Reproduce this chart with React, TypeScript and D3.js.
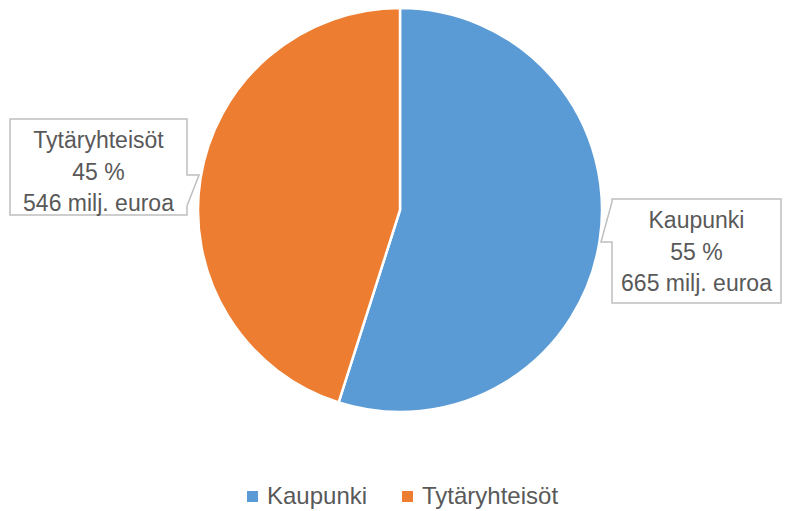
import React from "react";
import * as d3 from "d3";

const categories = ["Kaupunki", "Tytäryhteisöt"];
const values = [665, 546];
const percents = ["55 %", "45 %"];
const amounts = ["665 milj. euroa", "546 milj. euroa"];
const colors = ["#5B9BD5", "#ED7D31"];

const W = 785, H = 511;
const cx = 400, cy = 210, R = 202;
const FONT = "'Liberation Sans', Arial, sans-serif";
const TXT = "#595959";

export default function App() {
  const pie = d3.pie<number>().sort(null).value((d) => d)(values);
  const arc = d3.arc<d3.PieArcDatum<number>>().innerRadius(0).outerRadius(R);

  const boxes = [
    { x0: 612, y0: 199, x1: 781, y1: 303, ptr: [[612, 202], [601, 242], [612, 242]], lines: [228, 260, 291] },
    { x0: 10, y0: 119, x1: 187, y1: 215, ptr: [[187, 175], [199, 175], [187, 206]], lines: [148, 180, 211] },
  ];

  const calloutPath = (b: any, i: number) => {
    const p = b.ptr;
    if (i === 0) {
      return `M${b.x0},${b.y0} L${b.x1},${b.y0} L${b.x1},${b.y1} L${b.x0},${b.y1} L${p[2][0]},${p[2][1]} L${p[1][0]},${p[1][1]} L${p[0][0]},${p[0][1]} Z`;
    }
    return `M${b.x0},${b.y0} L${b.x1},${b.y0} L${p[0][0]},${p[0][1]} L${p[1][0]},${p[1][1]} L${p[2][0]},${p[2][1]} L${b.x1},${b.y1} L${b.x0},${b.y1} Z`;
  };

  const legendX = [247, 402];
  return (
    <svg width={W} height={H} style={{ position: "absolute", left: 0, top: 0, background: "#fff" }}>
      <g transform={`translate(${cx},${cy})`}>
        {pie.map((d, i) => (
          <path key={i} d={arc(d) || ""} fill={colors[i]} stroke="#fff" strokeWidth={2.5} />
        ))}
      </g>
      {boxes.map((b, i) => (
        <g key={i}>
          <path d={calloutPath(b, i)} fill="#fff" stroke="#BFBFBF" strokeWidth={1.5} />
          {[categories[i], percents[i], amounts[i]].map((t, j) => (
            <text key={j} x={(b.x0 + b.x1) / 2} y={b.lines[j]} textAnchor="middle" fontFamily={FONT} fontSize={23} fill={TXT}>
              {t}
            </text>
          ))}
        </g>
      ))}
      {categories.map((c, i) => (
        <g key={c}>
          <rect x={legendX[i]} y={491} width={11} height={11} fill={colors[i]} />
          <text x={legendX[i] + 20} y={504} fontFamily={FONT} fontSize={24} fill={TXT}>
            {c}
          </text>
        </g>
      ))}
    </svg>
  );
}
